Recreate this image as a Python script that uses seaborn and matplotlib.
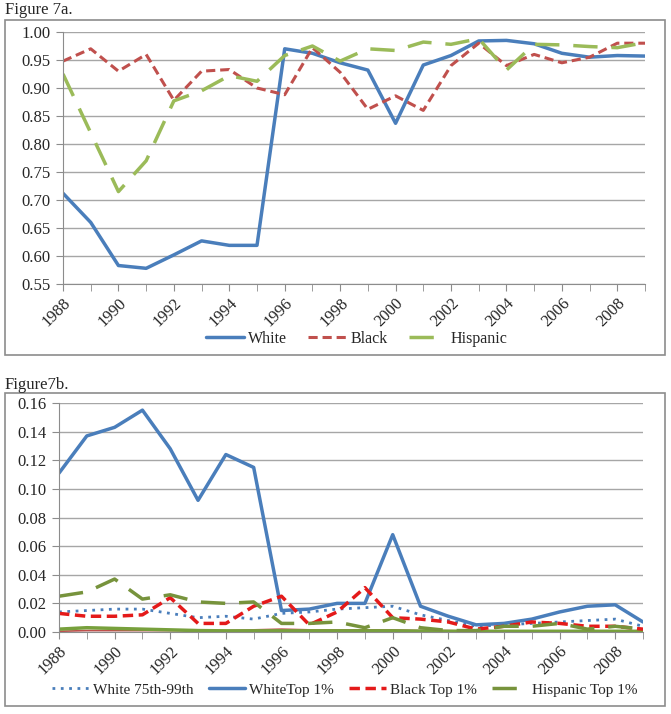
import numpy as np
import pandas as pd
import seaborn as sns
import matplotlib.pyplot as plt
import matplotlib.patches as mpatches

years = list(range(1988, 2010))

# Figure 7a
white = [0.712, 0.660, 0.583, 0.578, 0.602, 0.627, 0.619, 0.619, 0.970, 0.962, 0.945,
         0.932, 0.837, 0.941, 0.958, 0.984, 0.985, 0.979, 0.962, 0.955, 0.958, 0.957]
black = [0.948, 0.970, 0.930, 0.960, 0.878, 0.930, 0.933, 0.900, 0.888, 0.972, 0.928,
         0.862, 0.886, 0.860, 0.940, 0.980, 0.940, 0.960, 0.945, 0.955, 0.980, 0.980]
hispanic = [0.925, 0.820, 0.715, 0.770, 0.877, 0.895, 0.922, 0.912, 0.958, 0.975, 0.948,
            0.970, 0.967, 0.982, 0.978, 0.988, 0.932, 0.978, 0.977, 0.974, 0.972, 0.981]

# Figure 7b
white_75_99 = [0.014, 0.015, 0.016, 0.016, 0.013, 0.010, 0.011, 0.009, 0.013, 0.014, 0.016,
               0.017, 0.018, 0.012, 0.008, 0.004, 0.005, 0.006, 0.007, 0.008, 0.009, 0.004]
white_top1 = [0.111, 0.137, 0.143, 0.155, 0.128, 0.092, 0.124, 0.115, 0.015, 0.016, 0.020,
              0.020, 0.068, 0.018, 0.011, 0.005, 0.006, 0.009, 0.014, 0.018, 0.019, 0.007]
black_top1 = [0.013, 0.011, 0.011, 0.012, 0.024, 0.006, 0.006, 0.018, 0.025, 0.005, 0.014,
              0.031, 0.010, 0.009, 0.007, 0.002, 0.004, 0.007, 0.006, 0.004, 0.004, 0.002]
hispanic_top1 = [0.025, 0.028, 0.037, 0.023, 0.026, 0.021, 0.020, 0.021, 0.006, 0.006, 0.007,
                 0.003, 0.010, 0.003, 0.001, 0.001, 0.004, 0.004, 0.006, 0.002, 0.004, 0.002]
# unlabelled series hugging zero
black_75_99 = [0.0005, 0.001, 0.001, 0.001, 0.001, 0.001, 0.001, 0.0015, 0.002, 0.0015, 0.0015,
               0.0015, 0.0015, 0.001, 0.001, 0.0005, 0.0005, 0.0005, 0.0005, 0.0005, 0.0005, 0.0005]
hispanic_75_99 = [0.002, 0.003, 0.0025, 0.002, 0.0015, 0.001, 0.0008, 0.0008, 0.0008, 0.0008, 0.0008,
                  0.0008, 0.0008, 0.0006, 0.0005, 0.0005, 0.0005, 0.0005, 0.0005, 0.0005, 0.0005, 0.0005]

sns.set_style('white')
plt.rcParams['font.family'] = ['Liberation Serif', 'DejaVu Serif']
plt.rcParams['font.size'] = 12

W, H = 671, 714
fig = plt.figure(figsize=(W / 100, H / 100), dpi=100)


def box(x0, y0, x1, y1):
    return [x0 / W, 1 - y1 / H, (x1 - x0) / W, (y1 - y0) / H]


def style_axis(ax, ymin, ymax, step):
    ax.set_xlim(1988, 2009)
    ax.set_ylim(ymin, ymax)
    ax.set_yticks(np.round(np.arange(ymin, ymax + step / 2, step), 3))
    ax.yaxis.set_major_formatter(plt.FormatStrFormatter('%.2f'))
    ax.set_xticks(years, minor=True)
    ax.set_xticks(list(range(1988, 2010, 2)))
    ax.set_xticklabels([str(y) for y in range(1988, 2010, 2)], rotation=45,
                       ha='right', rotation_mode='anchor')
    ax.grid(axis='y', color='#a6a6a6', linewidth=1)
    ax.set_axisbelow(True)
    for s in ['top', 'right']:
        ax.spines[s].set_visible(False)
    for s in ['left', 'bottom']:
        ax.spines[s].set_color('#8c8c8c')
    ax.tick_params(axis='x', which='both', bottom=True, length=5, color='#8c8c8c', pad=3,
                   labelsize=12)
    ax.tick_params(axis='y', left=True, length=5, color='#8c8c8c', pad=4, labelsize=12)
    ax.set_xlabel('')
    ax.set_ylabel('')


# chart frames and titles
for (x0, y0, x1, y1) in [(5, 20, 665, 355), (5, 393, 665, 706)]:
    fig.patches.append(mpatches.Rectangle((x0 / W, 1 - y1 / H), (x1 - x0) / W, (y1 - y0) / H,
                                          transform=fig.transFigure, fill=False,
                                          edgecolor='#8c8c8c', linewidth=1.2))
fig.text(5 / W, 1 - 10 / H, 'Figure 7a.', va='center', ha='left', fontsize=12)
fig.text(5 / W, 1 - 385 / H, 'Figure7b.', va='center', ha='left', fontsize=12)

# ---- panel a
ax1 = fig.add_axes(box(63, 32, 645, 284))
sns.lineplot(x=years, y=white, ax=ax1, color='#4a7ebb', linewidth=2.5, label='White')
sns.lineplot(x=years, y=black, ax=ax1, color='#c0504d', linewidth=2.2,
             label='Black').lines[-1].set_dashes([3, 1.6])
sns.lineplot(x=years, y=hispanic, ax=ax1, color='#9bbb59', linewidth=2.5,
             label='Hispanic').lines[-1].set_dashes([7, 4])
style_axis(ax1, 0.55, 1.00, 0.05)
ax1.legend(loc='center', bbox_to_anchor=(0.505, -0.218), ncol=3, frameon=False,
           handlelength=2.4, columnspacing=1.3, handletextpad=0.25, fontsize=11.5)

# ---- panel b
ax2 = fig.add_axes(box(59, 403, 643, 632))
sns.lineplot(x=years, y=black_75_99, ax=ax2, color='#c0504d', linewidth=1.2)
sns.lineplot(x=years, y=hispanic_75_99, ax=ax2, color='#77a03c', linewidth=2.5)
sns.lineplot(x=years, y=white_75_99, ax=ax2, color='#4a7ebb', linewidth=2,
             label='White 75th-99th').lines[-1].set_dashes([1, 2])
sns.lineplot(x=years, y=white_top1, ax=ax2, color='#4a7ebb', linewidth=2.5, label='WhiteTop 1%')
sns.lineplot(x=years, y=black_top1, ax=ax2, color='#e41a1a', linewidth=2.5,
             label='Black Top 1%').lines[-1].set_dashes([3, 1.6])
sns.lineplot(x=years, y=hispanic_top1, ax=ax2, color='#77933c', linewidth=2.5,
             label='Hispanic Top 1%').lines[-1].set_dashes([7, 4])
style_axis(ax2, 0.0, 0.16, 0.02)
ax2.legend(loc='center', bbox_to_anchor=(0.49, -0.253), ncol=4, frameon=False,
           handlelength=2.4, columnspacing=1.0, handletextpad=0.25, fontsize=11)

fig.savefig('out.png', dpi=100)
